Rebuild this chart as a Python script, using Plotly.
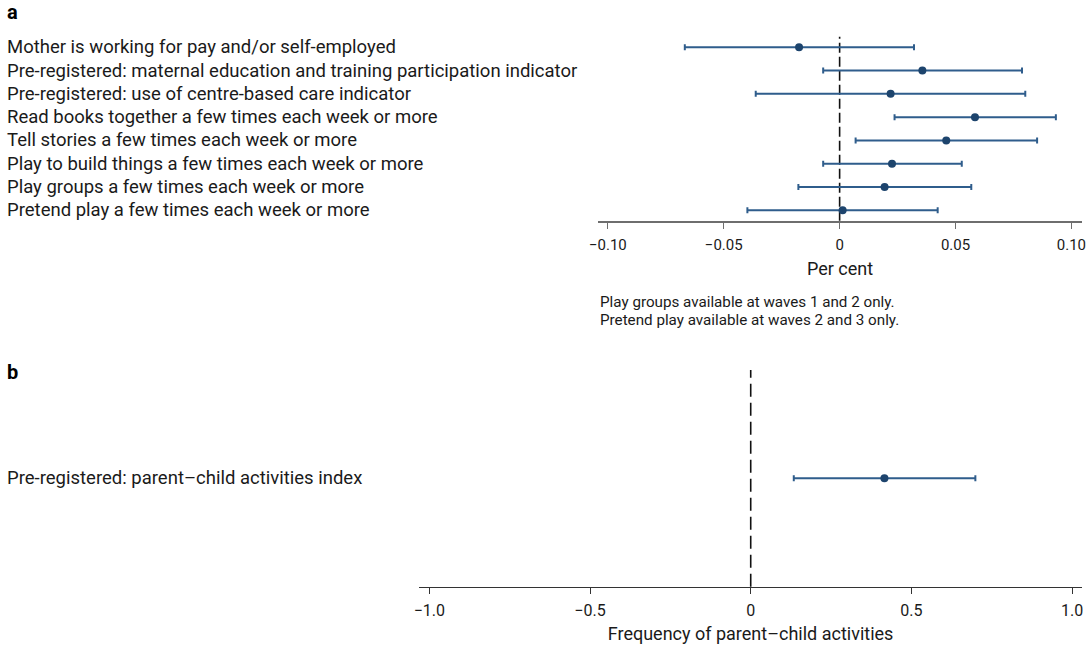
import plotly.graph_objects as go

# Panel a: binary outcomes
outcomes_a = [
    "Mother is working for pay and/or self-employed",
    "Pre-registered: maternal education and training participation indicator",
    "Pre-registered: use of centre-based care indicator",
    "Read books together a few times each week or more",
    "Tell stories a few times each week or more",
    "Play to build things a few times each week or more",
    "Play groups a few times each week or more",
    "Pretend play a few times each week or more",
]
estimate_a = [-0.0175, 0.0357, 0.0220, 0.0584, 0.0460, 0.0226, 0.0194, 0.0013]
lower_a = [-0.0668, -0.0071, -0.0362, 0.0237, 0.0069, -0.0071, -0.0178, -0.0398]
upper_a = [0.0321, 0.0787, 0.0801, 0.0933, 0.0852, 0.0527, 0.0568, 0.0423]
ticks_a = [-0.10, -0.05, 0, 0.05, 0.10]
ticktext_a = ["\u22120.10", "\u22120.05", "0", "0.05", "0.10"]

# Panel b: activities index
outcomes_b = ["Pre-registered: parent\u2013child activities index"]
estimate_b = [0.416]
lower_b = [0.134]
upper_b = [0.699]
ticks_b = [-1.0, -0.5, 0, 0.5, 1.0]
ticktext_b = ["\u22121.0", "\u22120.5", "0", "0.5", "1.0"]

notes = [
    "Play groups available at waves 1 and 2 only.",
    "Pretend play available at waves 2 and 3 only.",
]

FONT = "Roboto"
TEXT = "#1a1a1a"
BAR = "#2f5d8c"
DOT = "#1d446d"
W, H = 1091, 645

fig = go.Figure()

n = len(outcomes_a)
ypos_a = [n - 1 - i for i in range(n)]

fig.add_trace(go.Scatter(
    x=estimate_a, y=ypos_a, mode="markers",
    marker=dict(color=DOT, size=8),
    error_x=dict(type="data", symmetric=False,
                 array=[u - e for u, e in zip(upper_a, estimate_a)],
                 arrayminus=[e - l for e, l in zip(estimate_a, lower_a)],
                 color=BAR, thickness=2, width=3),
    xaxis="x", yaxis="y", showlegend=False, hoverinfo="skip",
))

fig.add_trace(go.Scatter(
    x=estimate_b, y=[0], mode="markers",
    marker=dict(color=DOT, size=8),
    error_x=dict(type="data", symmetric=False,
                 array=[u - e for u, e in zip(upper_b, estimate_b)],
                 arrayminus=[e - l for e, l in zip(estimate_b, lower_b)],
                 color=BAR, thickness=2, width=3),
    xaxis="x2", yaxis="y2", showlegend=False, hoverinfo="skip",
))

# zero reference lines
fig.add_shape(type="line", xref="x", yref="y domain", x0=0, x1=0, y0=0, y1=1,
              line=dict(color="#111111", width=1.6, dash="10px,4px"), layer="below")
fig.add_shape(type="line", xref="x2", yref="y2 domain", x0=0, x1=0, y0=0, y1=1,
              line=dict(color="#111111", width=1.6, dash="13px,6px"), layer="below")

label_font = dict(family=FONT, size=18.5, color=TEXT)
annotations = []
for label, yv in zip(outcomes_a, ypos_a):
    annotations.append(dict(text=label, x=0, xref="paper", xshift=-4, y=yv, yref="y",
                            xanchor="left", yanchor="middle", showarrow=False,
                            font=label_font))
annotations.append(dict(text=outcomes_b[0], x=0, xref="paper", xshift=-4, y=0, yref="y2",
                        xanchor="left", yanchor="middle", showarrow=False,
                        font=label_font))
annotations.append(dict(text="<b>a</b>", x=0, xref="paper", xshift=-4, y=1 - 12 / H, yref="paper",
                        xanchor="left", yanchor="middle", showarrow=False,
                        font=dict(family=FONT, size=20, color="#000000")))
annotations.append(dict(text="<b>b</b>", x=0, xref="paper", xshift=-4, y=1 - 372 / H, yref="paper",
                        xanchor="left", yanchor="middle", showarrow=False,
                        font=dict(family=FONT, size=20, color="#000000")))
for line, ypx in zip(notes, [302, 320]):
    annotations.append(dict(text=line, x=596 / W, xref="paper", y=1 - ypx / H, yref="paper",
                            xanchor="left", yanchor="middle", showarrow=False,
                            font=dict(family=FONT, size=15.2, color=TEXT)))

axis_common = dict(showgrid=False, zeroline=False, ticks="outside", ticklen=6,
                   tickwidth=1.2, mirror=False, showline=True)

fig.update_layout(
    width=W, height=H,
    margin=dict(l=0, r=0, t=0, b=0),
    paper_bgcolor="white", plot_bgcolor="white",
    font=dict(family=FONT, color=TEXT),
    xaxis=dict(domain=[596 / W, 1086 / W], range=[-0.1043, 0.1046],
               tickvals=ticks_a, ticktext=ticktext_a,
               linecolor="#6e6e6e", linewidth=2, tickcolor="#6e6e6e",
               tickfont=dict(size=15, color=TEXT), ticklabelstandoff=3,
               title=dict(text="Per cent", font=dict(size=18), standoff=10),
               anchor="y", **axis_common),
    yaxis=dict(domain=[1 - 220.7 / H, 1 - 36.7 / H], range=[-0.447, 7.455],
               visible=False, anchor="x"),
    xaxis2=dict(domain=[415 / W, 1086 / W], range=[-1.032, 1.031],
                tickvals=ticks_b, ticktext=ticktext_b,
                linecolor="#333333", linewidth=1.2, tickcolor="#333333",
                tickfont=dict(size=16, color=TEXT), ticklabelstandoff=3,
                title=dict(text="Frequency of parent\u2013child activities", font=dict(size=18), standoff=8),
                anchor="y2", **axis_common),
    yaxis2=dict(domain=[1 - 586.7 / H, 1 - 370 / H], range=[-1, 1],
                visible=False, anchor="x2"),
    annotations=annotations,
)

fig.write_html("out.html")
